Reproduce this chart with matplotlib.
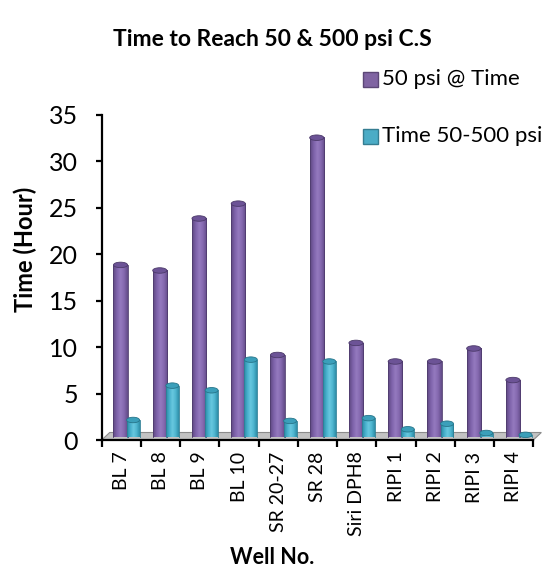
import numpy as np
import matplotlib
matplotlib.use("Agg")
import matplotlib.pyplot as plt
from matplotlib.patches import Ellipse, Polygon, Rectangle
from matplotlib.colors import LinearSegmentedColormap

plt.rcParams['font.family'] = ['Lato', 'DejaVu Sans']

# ---- data ----
wells = ["BL 7", "BL 8", "BL 9", "BL 10", "SR 20-27", "SR 28",
         "Siri DPH8", "RIPI 1", "RIPI 2", "RIPI 3", "RIPI 4"]
time_to_50psi = [18.5, 17.9, 23.5, 25.1, 8.8, 32.2, 10.1, 8.1, 8.1, 9.5, 6.1]
time_50_to_500psi = [1.8, 5.5, 5.0, 8.3, 1.7, 8.1, 2.0, 0.8, 1.4, 0.4, 0.2]
series_names = ["50 psi @ Time", "Time 50-500 psi"]
y_ticks = [0, 5, 10, 15, 20, 25, 30, 35]

W, H = 545, 576
fig = plt.figure(figsize=(W / 100, H / 100), dpi=100)
ax_left, ax_bottom = 101.7, 440
cat_px = 39.24
ax = fig.add_axes([ax_left / W, (H - ax_bottom) / H, (W - ax_left) / W, 325 / H])
ax.patch.set_alpha(0)

px_y = 35 / 325.0          # data units per pixel vertically
px_x = 1 / cat_px          # data units per pixel horizontally
depth_y = 3.3 * px_y       # bars stand a little behind the front edge of the floor

# floor plane
fdx, fdy = 8 * px_x, 7.5 * px_y
n = len(wells)
floor = Polygon([(-0.5, 0), (n - 0.5, 0), (n - 0.5 + fdx, fdy), (-0.5 + fdx, fdy)],
                closed=True, facecolor="#c3c3c3", edgecolor="#8c8c8c", lw=0.8,
                zorder=1, clip_on=False)
ax.add_patch(floor)

styles = [
    dict(offset=-0.02, width=0.36,
         grad=["#5e4881", "#7d62a9", "#957abf", "#8468af", "#624b87"],
         top="#6c5396", top_edge="#4c3a6a", edge="#4f3c6e"),
    dict(offset=0.30, width=0.33,
         grad=["#2a8aa3", "#46aecb", "#68c8df", "#4fb6d0", "#2f8ea8"],
         top="#3b9fba", top_edge="#26758a", edge="#2c7f95"),
]


def cylinder(x, value, st, z):
    w = st["width"]
    x0, x1 = x - w / 2, x + w / 2
    y0, y1 = depth_y, value + depth_y
    cmap = LinearSegmentedColormap.from_list("c", st["grad"])
    grad = np.linspace(0, 1, 64).reshape(1, -1)
    ax.imshow(grad, cmap=cmap, extent=[x0, x1, y0, y1], aspect="auto",
              origin="lower", zorder=z, interpolation="bilinear")
    ax.plot([x0, x0], [y0, y1], color=st["edge"], lw=0.6, zorder=z + 0.1)
    ax.plot([x1, x1], [y0, y1], color=st["edge"], lw=0.6, zorder=z + 0.1)
    eh = 5.5 * px_y
    ax.add_patch(Ellipse((x, y1), w, eh, facecolor=st["top"],
                         edgecolor=st["top_edge"], lw=0.6, zorder=z + 0.2))


for i in range(n):
    cylinder(i + styles[0]["offset"], time_to_50psi[i], styles[0], 3)
    cylinder(i + styles[1]["offset"], time_50_to_500psi[i], styles[1], 5)

ax.set_xlim(-0.5, -0.5 + (W - ax_left) / cat_px)
ax.set_ylim(0, 35)

# axes styling
for s in ["top", "right"]:
    ax.spines[s].set_visible(False)
ax.spines["left"].set_linewidth(1.6)
ax.spines["bottom"].set_linewidth(1.6)
ax.spines["bottom"].set_bounds(-0.5, n - 0.5)
ax.set_yticks(y_ticks)
ax.set_yticklabels([str(t) for t in y_ticks], fontsize=18)
ax.tick_params(axis="y", direction="out", length=4, width=1.6, pad=13)
ax.set_xticks(np.arange(-0.5, n, 1.0))
ax.set_xticklabels([])
ax.tick_params(axis="x", direction="out", length=5, width=1.6)
for i, name in enumerate(wells):
    ax.text(i, -1.25, name, rotation=90, ha="center", va="top", fontsize=14)

# titles
fig.text(272 / W, 1 - 40 / H, "Time to Reach 50 & 500 psi C.S",
         ha="center", va="center", fontsize=16.5, fontweight="bold")
fig.text(25 / W, 1 - 249 / H, "Time (Hour)", rotation=90,
         ha="center", va="center", fontsize=17, fontweight="bold")
fig.text(272 / W, 1 - 557 / H, "Well No.",
         ha="center", va="center", fontsize=15.5, fontweight="bold")

# legend
legend_rows = [(79, "#8064a2", "#5c4776"),
               (136, "#4bacc6", "#357d91")]
for (yc, fc, ec), name in zip(legend_rows, series_names):
    fig.patches.append(Rectangle((363 / W, 1 - (yc + 7.5) / H), 15 / W, 15 / H,
                                 transform=fig.transFigure, facecolor=fc,
                                 edgecolor=ec, lw=1.0))
    fig.text(382 / W, 1 - yc / H, name, ha="left", va="center", fontsize=16)

fig.savefig("out.png", dpi=100)
